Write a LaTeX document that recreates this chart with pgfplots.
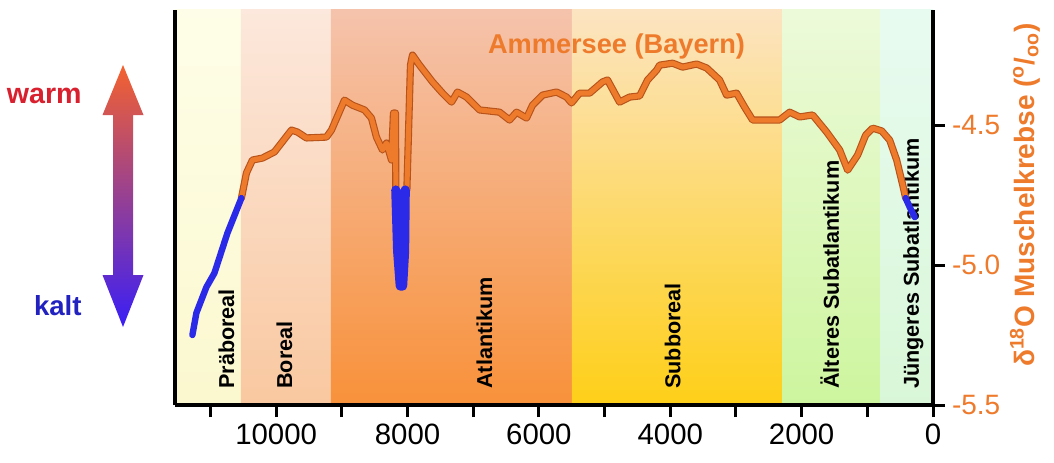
\documentclass[border=0pt]{standalone}
\usepackage{pgfplots}
\pgfplotsset{compat=1.18}
\usepackage{pgfplotstable}
\usepackage{fontspec}
\setmainfont{Liberation Sans}

\definecolor{curveC}{HTML}{EE7A2C}
\definecolor{curveD}{HTML}{B6531A}
\definecolor{blueC}{HTML}{2A2AE8}
\definecolor{warmC}{HTML}{D8202E}
\definecolor{kaltC}{HTML}{2222C0}
\definecolor{arrT}{HTML}{F4622F}
\definecolor{arrM}{HTML}{C24CC4}
\definecolor{arrB}{HTML}{3A1EF6}
\definecolor{preT}{HTML}{FEFEE8}
\definecolor{preB}{HTML}{FBF8CF}
\definecolor{borT}{HTML}{FCE8DC}
\definecolor{borB}{HTML}{F9C8A0}
\definecolor{atlT}{HTML}{F5C3AC}
\definecolor{atlB}{HTML}{F8913A}
\definecolor{subT}{HTML}{FCE4C2}
\definecolor{subB}{HTML}{FECF18}
\definecolor{altT}{HTML}{EDFADA}
\definecolor{altB}{HTML}{CDF59E}
\definecolor{junT}{HTML}{E8FBF0}
\definecolor{junB}{HTML}{D9F7D8}

% years before present vs. d18O
\pgfplotstableread{
x y
11275 -5.250
11214 -5.171
11062 -5.079
10940 -5.029
10742 -4.886
10529 -4.761
}\blueA

\pgfplotstableread{
x y
10529 -4.761
10452 -4.671
10361 -4.625
10209 -4.618
10026 -4.596
9767 -4.518
9676 -4.525
9539 -4.546
9234 -4.543
9158 -4.518
8960 -4.411
8838 -4.429
8655 -4.446
8549 -4.475
8473 -4.543
8381 -4.589
8320 -4.564
8275 -4.600
8244 -4.625
8214 -4.457
8183 -4.457
8178 -4.732
}\orangeA

\pgfplotstableread{
x y
8178 -4.732
8150 -4.950
8110 -5.075
8075 -5.075
8045 -4.950
8035 -4.732
}\blueB

\pgfplotstableread{
x y
8010 -4.732
7975 -4.446
7955 -4.286
7924 -4.250
7817 -4.286
7619 -4.346
7467 -4.386
7330 -4.418
7239 -4.382
7101 -4.400
6903 -4.446
6599 -4.454
6447 -4.482
6340 -4.454
6188 -4.475
6097 -4.429
5944 -4.393
5731 -4.382
5579 -4.400
5503 -4.421
5381 -4.386
5229 -4.386
5031 -4.346
4955 -4.339
4772 -4.418
4619 -4.400
4467 -4.396
4345 -4.339
4208 -4.304
4162 -4.286
3964 -4.279
3812 -4.293
3599 -4.282
3447 -4.296
3249 -4.339
3142 -4.393
2990 -4.386
2868 -4.436
2746 -4.482
2335 -4.482
2182 -4.454
2030 -4.471
1832 -4.464
1619 -4.525
1421 -4.589
1299 -4.661
1147 -4.607
1025 -4.536
918 -4.511
781 -4.521
659 -4.554
553 -4.625
461 -4.714
416 -4.761
}\orangeB

\pgfplotstableread{
x y
416 -4.761
355 -4.793
279 -4.829
}\blueC

\begin{document}
\begin{tikzpicture}
\useasboundingbox (0,0) rectangle (527pt,231pt);

% warm / kalt arrow
\shade[top color=arrT, middle color=arrM, bottom color=arrB]
  (61.5pt,198.5pt) -- (71.75pt,173.5pt) -- (66.5pt,173.5pt) -- (66.5pt,93.5pt)
  -- (71.75pt,93.5pt) -- (61.5pt,67.5pt) -- (51.25pt,93.5pt) -- (56.5pt,93.5pt)
  -- (56.5pt,173.5pt) -- (51.25pt,173.5pt) -- cycle;
\node[anchor=base east, inner sep=0, text=warmC, font=\bfseries\fontsize{14.3}{16}\selectfont] at (41pt,179.5pt) {warm};
\node[anchor=base east, inner sep=0, text=kaltC, font=\bfseries\fontsize{13.8}{16}\selectfont] at (41pt,73.5pt) {kalt};

\begin{axis}[
  name=ax,
  at={(87.5pt,28.5pt)}, anchor=south west,
  scale only axis, width=379pt, height=197.5pt,
  x dir=reverse, xmin=0, xmax=11540,
  ymin=-5.5, ymax=-4.089,
  axis x line=bottom, axis y line=right,
  axis line style={-, line width=2pt, black},
  xtick={0,2000,...,10000},
  minor xtick={1000,3000,...,11000},
  ytick={-5.5,-5,-4.5},
  scaled x ticks=false,
  tick align=outside,
  major tick length=6pt, minor tick length=6pt,
  tick style={black, line width=1.5pt},
  /pgf/number format/assume math mode=true,
  xticklabel style={font=\fontsize{14.7}{16}\selectfont, /pgf/number format/1000 sep={}},
  yticklabel style={text=curveC, font=\fontsize{14}{16}\selectfont,
    /pgf/number format/.cd, fixed, fixed zerofill, precision=1},
  clip=false,
  axis on top,
]
% period bands
\addplot[draw=none, top color=preT, bottom color=preB] coordinates {(11540,-5.5) (11540,-4.089) (10537,-4.089) (10537,-5.5)} -- cycle;
\addplot[draw=none, top color=borT, bottom color=borB] coordinates {(10537,-5.5) (10537,-4.089) (9167,-4.089) (9167,-5.5)} -- cycle;
\addplot[draw=none, top color=atlT, bottom color=atlB] coordinates {(9167,-5.5) (9167,-4.089) (5499,-4.089) (5499,-5.5)} -- cycle;
\addplot[draw=none, top color=subT, bottom color=subB] coordinates {(5499,-5.5) (5499,-4.089) (2294,-4.089) (2294,-5.5)} -- cycle;
\addplot[draw=none, top color=altT, bottom color=altB] coordinates {(2294,-5.5) (2294,-4.089) (796,-4.089) (796,-5.5)} -- cycle;
\addplot[draw=none, top color=junT, bottom color=junB] coordinates {(796,-5.5) (796,-4.089) (0,-4.089) (0,-5.5)} -- cycle;

% period names
\begin{scope}[every node/.style={rotate=90, anchor=west, inner sep=0, font=\bfseries\fontsize{10.8}{12}\selectfont}]
\node at (axis cs:10757,-5.443) {Präboreal};
\node at (axis cs:9874,-5.443) {Boreal};
\node at (axis cs:6828,-5.443) {Atlantikum};
\node at (axis cs:3965,-5.443) {Subboreal};
\node at (axis cs:1573,-5.443) {Älteres Subatlantikum};
\node at (axis cs:300,-5.443) {Jüngeres Subatlantikum};
\end{scope}

% curve
\addplot[curveD, line width=3.6pt, line join=round, line cap=round] table {\orangeA};
\addplot[curveD, line width=3.6pt, line join=round, line cap=round] table {\orangeB};
\addplot[curveC, line width=2.5pt, line join=round, line cap=round] table {\orangeA};
\addplot[curveC, line width=2.5pt, line join=round, line cap=round] table {\orangeB};
\addplot[blueC, line width=3.2pt, line join=round, line cap=round] table {\blueA};
\addplot[blueC, line width=4.6pt, line join=round, line cap=round] table {\blueB};
\addplot[blueC, line width=3.2pt, line join=round, line cap=round] table {\blueC};
\end{axis}

\draw[line width=2pt, black] (ax.south west) -- (ax.north west);

\node[anchor=base, inner sep=0, text=curveC, font=\bfseries\fontsize{13.6}{16}\selectfont] at (308.25pt,204.5pt) {Ammersee (Bayern)};
\node[rotate=90, inner sep=0, text=curveC, font=\bfseries\fontsize{14}{16}\selectfont] at (512.5pt,133.5pt)
  {δ\textsuperscript{18}O Muschelkrebse (\textsuperscript{o}/\textsubscript{oo})};
\end{tikzpicture}
\end{document}
